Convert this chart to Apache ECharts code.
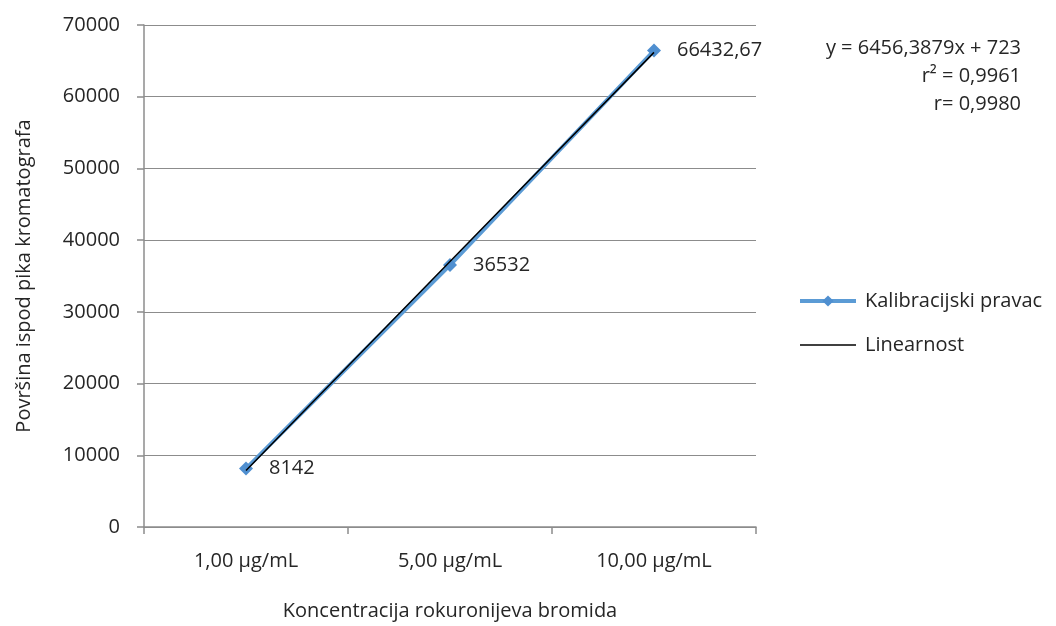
<!DOCTYPE html>
<html><head><meta charset="utf-8">
<script src="https://cdn.jsdelivr.net/npm/echarts@6/dist/echarts.min.js"></script>
<style>html,body{margin:0;padding:0;background:#fff}#c{width:1056px;height:626px}</style>
</head><body><div id="c"></div>
<script>
var categories = ['1,00 µg/mL', '5,00 µg/mL', '10,00 µg/mL'];
var calibration = [8142, 36532, 66432.67];
var linearity = [7890, 37036, 66181];
var yTicks = {min: 0, max: 70000, interval: 10000};
var equationLines = ['y = 6456,3879x + 723', 'r² = 0,9961', 'r= 0,9980'];

var FONT = 'Open Sans';
var TXT = '#262626';
var FS = 20;
var chart = echarts.init(document.getElementById('c'));
chart.setOption({
  backgroundColor: '#fff',
  animation: false,
  textStyle: {fontFamily: FONT},
  grid: {left: 144, right: 300, top: 25, bottom: 99, containLabel: false, outerBoundsMode: 'none'},
  legend: {
    orient: 'vertical', left: 793, top: 286, itemGap: 24, itemWidth: 56, itemHeight: 14,
    textStyle: {fontFamily: FONT, fontSize: FS, color: TXT, padding: [0, 0, 0, 4]},
    data: [
      {name: 'Kalibracijski pravac', lineStyle: {width: 4, color: '#5b9bd5'}},
      {name: 'Linearnost', lineStyle: {width: 1.5, color: '#000'}, itemStyle: {opacity: 0}}
    ]
  },
  graphic: equationLines.map(function (t, i) {
    return {
      type: 'text', x: 1021, y: 48 + i * 28,
      style: {text: t, align: 'right', verticalAlign: 'middle', fontFamily: FONT, fontSize: FS, fill: TXT}
    };
  }),
  xAxis: {
    type: 'category', data: categories, boundaryGap: true,
    name: 'Koncentracija rokuronijeva bromida', nameLocation: 'middle', nameGap: 74,
    nameTextStyle: {fontFamily: FONT, fontSize: FS, color: TXT},
    axisLine: {lineStyle: {color: '#8c8c8c', width: 1.5}},
    axisTick: {show: true, length: 7, lineStyle: {color: '#8c8c8c', width: 1.5}},
    axisLabel: {fontFamily: FONT, fontSize: FS, color: TXT, margin: 24}
  },
  yAxis: {
    type: 'value', min: yTicks.min, max: yTicks.max, interval: yTicks.interval,
    name: 'Površina ispod pika kromatografa', nameLocation: 'middle', nameGap: 110,
    nameTextStyle: {fontFamily: FONT, fontSize: FS, color: TXT},
    axisLine: {show: true, lineStyle: {color: '#8c8c8c', width: 1.5}},
    axisTick: {show: true, length: 7, lineStyle: {color: '#8c8c8c', width: 1.5}},
    axisLabel: {fontFamily: FONT, fontSize: FS, color: TXT, margin: 24,
      formatter: function (v) { return String(v); }},
    splitLine: {lineStyle: {color: '#8c8c8c', width: 1.2}}
  },
  series: [
    {
      name: 'Kalibracijski pravac', type: 'line', data: calibration,
      symbol: 'diamond', symbolSize: 14,
      lineStyle: {color: '#5b9bd5', width: 4},
      itemStyle: {color: '#4f8fd0'},
      label: {
        show: true, position: 'right', distance: 16,
        fontFamily: FONT, fontSize: FS, color: TXT,
        formatter: function (p) { return String(p.value).replace('.', ','); }
      },
      z: 2
    },
    {
      name: 'Linearnost', type: 'line', data: linearity,
      symbol: 'none', showSymbol: false,
      lineStyle: {color: '#000', width: 1.5},
      itemStyle: {color: '#000'},
      z: 3
    }
  ]
});
</script></body></html>
